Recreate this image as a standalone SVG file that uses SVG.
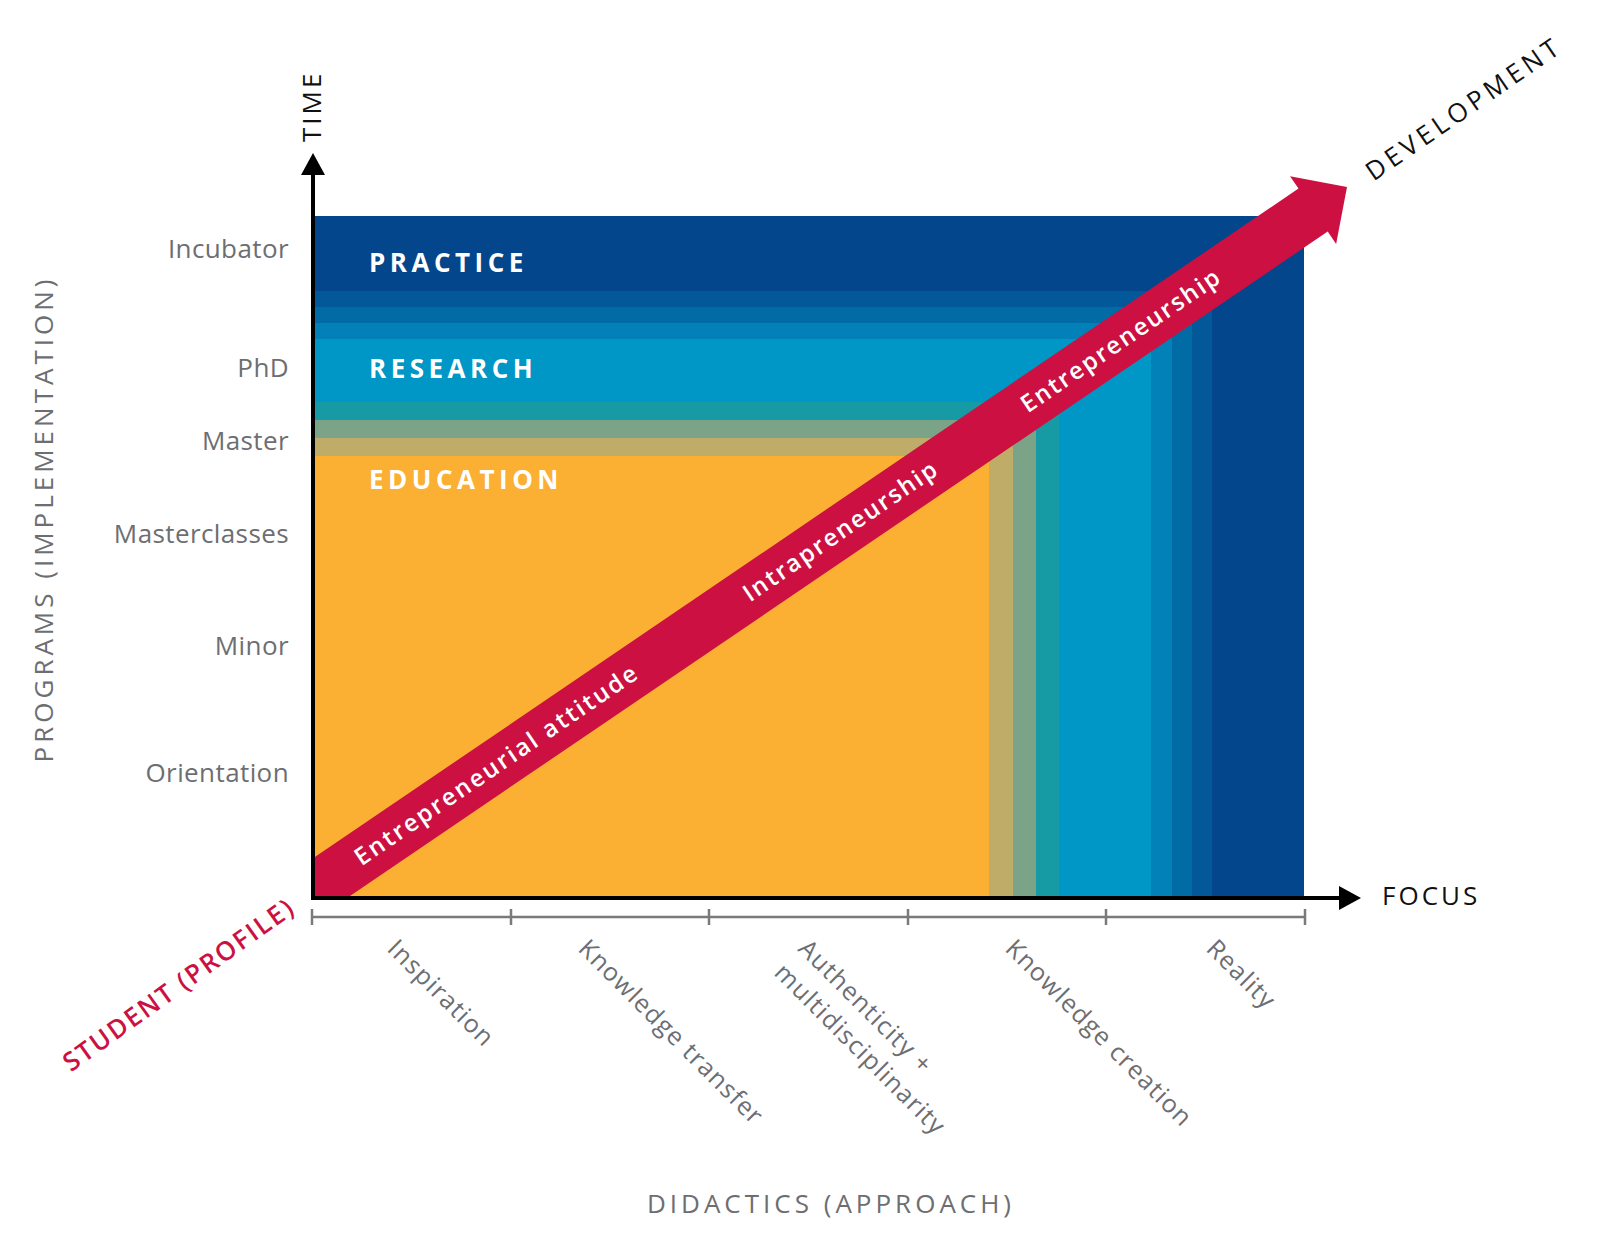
<svg xmlns="http://www.w3.org/2000/svg" width="1600" height="1250" viewBox="0 0 1600 1250">
<style>
  .lbl { font-family: "Open Sans", "Liberation Sans", sans-serif; font-size: 26px; fill: #6d6e71; letter-spacing: 0.4px; }
  .blbl { font-family: "Open Sans", "Liberation Sans", sans-serif; font-size: 25px; fill: #6d6e71; letter-spacing: 1.2px; }
  .axis-title { font-family: "Open Sans", "Liberation Sans", sans-serif; font-size: 26px; fill: #6d6e71; letter-spacing: 4px; }
  .axis-dark { font-family: "Open Sans", "Liberation Sans", sans-serif; font-size: 26px; fill: #111; letter-spacing: 3px; }
  .band-title { font-family: "Open Sans", "Liberation Sans", sans-serif; font-size: 26px; font-weight: bold; fill: #ffffff; letter-spacing: 4.5px; }
  .arrow-text { font-family: "Open Sans", "Liberation Sans", sans-serif; font-size: 24px; font-weight: 600; fill: #ffffff; letter-spacing: 2px; }
  .student { font-family: "Open Sans", "Liberation Sans", sans-serif; font-size: 26px; font-weight: 600; fill: #cc1142; letter-spacing: 2px; }
</style>
<defs>
  <clipPath id="plotClip">
    <rect x="313" y="0" width="1300" height="898"/>
  </clipPath>
</defs>
<rect width="1600" height="1250" fill="#ffffff"/>

<g id="bands">
  <rect id="practice" x="313" y="216" width="991" height="682" fill="#03468c"/>
  <rect id="band1" x="313" y="291" width="899" height="607" fill="#025898"/>
  <rect id="band2" x="313" y="307" width="879" height="591" fill="#016ba6"/>
  <rect id="band3" x="313" y="323" width="859" height="575" fill="#0181b7"/>
  <rect id="research" x="313" y="339" width="838" height="559" fill="#0096c5"/>
  <rect id="teal" x="313" y="402" width="746" height="496" fill="#169ba4"/>
  <rect id="greengray" x="313" y="420" width="723" height="478" fill="#7ba388"/>
  <rect id="khaki" x="313" y="438" width="700" height="460" fill="#bfac69"/>
  <rect id="education" x="313" y="456" width="676" height="442" fill="#fbb034"/>
</g>

<g id="band-titles">
  <text class="band-title" x="369" y="272">PRACTICE</text>
  <text class="band-title" x="369" y="378">RESEARCH</text>
  <text class="band-title" x="369" y="489">EDUCATION</text>
</g>

<g id="development-arrow" clip-path="url(#plotClip)">
  <g transform="translate(1347,187) rotate(-34.2)">
    <polygon points="-1500,-26 -41,-26 -41,-41 0,0 -41,41 -41,26 -1500,26" fill="#cc1142"/>
    <text class="arrow-text" x="-1028" y="8" text-anchor="middle" style="letter-spacing:2.3px">Entrepreneurial attitude</text>
    <text class="arrow-text" x="-612" y="8" text-anchor="middle">Intrapreneurship</text>
    <text class="arrow-text" x="-273" y="8" text-anchor="middle">Entrepreneurship</text>
  </g>
</g>

<g id="connectors">
  <line x1="313" y1="900" x2="313" y2="170" stroke="#000" stroke-width="4"/>
  <polygon points="313,153 301,175 325,175" fill="#000"/>
  <line x1="311" y1="898" x2="1342" y2="898" stroke="#000" stroke-width="4"/>
  <polygon points="1361,898 1339,886 1339,910" fill="#000"/>
  <g id="tick-axis" stroke="#7a7a7a" stroke-width="2.5">
    <line x1="312" y1="917" x2="1305" y2="917"/>
    <line x1="312" y1="909" x2="312" y2="925"/>
    <line x1="511" y1="909" x2="511" y2="925"/>
    <line x1="709" y1="909" x2="709" y2="925"/>
    <line x1="908" y1="909" x2="908" y2="925"/>
    <line x1="1106" y1="909" x2="1106" y2="925"/>
    <line x1="1305" y1="909" x2="1305" y2="925"/>
  </g>
</g>

<g id="axis-titles">
  <text class="axis-dark" x="321" y="142" transform="rotate(-90 321 142)">TIME</text>
  <text class="axis-dark" x="1382" y="905">FOCUS</text>
  <text class="axis-dark" x="1469" y="116" text-anchor="middle" transform="rotate(-34.5 1469 116)" style="letter-spacing:4.3px">DEVELOPMENT</text>
  <text class="axis-title" x="53" y="519" text-anchor="middle" transform="rotate(-90 53 519)">PROGRAMS (IMPLEMENTATION)</text>
  <text class="axis-title" x="831" y="1213" text-anchor="middle">DIDACTICS (APPROACH)</text>
  <text class="student" x="184" y="992" text-anchor="middle" transform="rotate(-35.5 184 992)">STUDENT (PROFILE)</text>
</g>

<g id="program-labels" text-anchor="end">
  <text class="lbl" x="289" y="258">Incubator</text>
  <text class="lbl" x="289" y="377">PhD</text>
  <text class="lbl" x="289" y="450">Master</text>
  <text class="lbl" x="289" y="543">Masterclasses</text>
  <text class="lbl" x="289" y="655">Minor</text>
  <text class="lbl" x="289" y="782">Orientation</text>
</g>

<g id="didactics-labels">
  <text class="blbl" x="386" y="950" transform="rotate(45 386 950)">Inspiration</text>
  <text class="blbl" x="577" y="950" transform="rotate(45 577 950)">Knowledge transfer</text>
  <text class="blbl" x="797" y="950" transform="rotate(45 797 950)">Authenticity +<tspan x="797" dy="34">multidisciplinarity</tspan></text>
  <text class="blbl" x="1004" y="950" transform="rotate(45 1004 950)">Knowledge creation</text>
  <text class="blbl" x="1205" y="950" transform="rotate(45 1205 950)">Reality</text>
</g>
</svg>
